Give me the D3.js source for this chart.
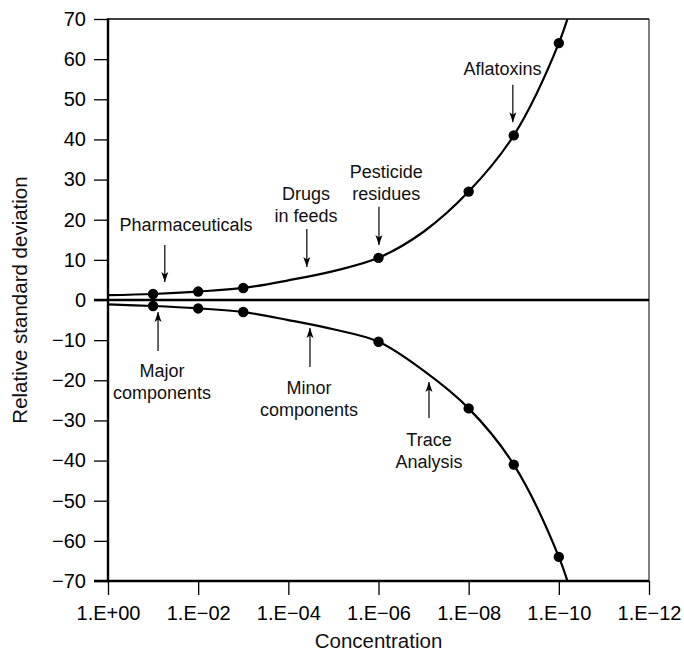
<!DOCTYPE html>
<html>
<head>
<meta charset="utf-8">
<script src="https://cdn.jsdelivr.net/npm/d3@7"></script>
<style>
  html, body { margin: 0; padding: 0; background: #fff; }
  svg { display: block; font-family: "Liberation Sans", Arial, Helvetica, sans-serif; }
</style>
</head>
<body>
<svg id="chart" width="684" height="654"></svg>
<script>
// ---- data (concentrations expressed as decimal exponents, RSD in %) ----
const xTickExponents = [0, -2, -4, -6, -8, -10, -12];
const yTickValues = [70, 60, 50, 40, 30, 20, 10, 0, -10, -20, -30, -40, -50, -60, -70];

const pointExponents = [-1, -2, -3, -6, -8, -9, -10];
const upperPointRSD = [1.5, 2.1, 3.0, 10.5, 27, 41, 64];
const lowerPointRSD = [-1.5, -2.1, -3.0, -10.4, -27, -41, -64];

const curveExponents = [0, -1, -2, -3, -4, -5, -6, -7, -8, -9, -10, -10.35];
const upperCurveRSD = [1.2, 1.5, 2.1, 3.0, 4.9, 7.2, 10.5, 17.0, 27, 41, 64, 76];
const lowerCurveRSD = [-1.1, -1.5, -2.1, -3.0, -5.0, -7.3, -10.4, -17.6, -27, -41, -64, -76];

const annotationLabels = [
  ["Pharmaceuticals"], ["Drugs", "in feeds"], ["Pesticide", "residues"], ["Aflatoxins"],
  ["Major", "components"], ["Minor", "components"], ["Trace", "Analysis"]
];
// arrow x (exponent), arrow tail and tip (RSD), label centre (exponent), label first baseline (RSD)
const annotationArrowX = [-1.26, -4.41, -6.01, -8.98, -1.11, -4.48, -7.12];
const annotationTail   = [13.7, 17.7, 23.2, 53.6, -12.7, -16.7, -29.4];
const annotationTip    = [4.5, 8.2, 13.7, 44.3, -3.0, -7.0, -20.4];
const annotationTextX  = [-1.73, -4.39, -6.17, -8.75, -1.2, -4.46, -7.12];
const annotationTextY  = [17.2, 24.9, 30.4, 56.0, -19.2, -23.4, -36.4];

// ---- layout ----
const svg = d3.select("#chart");
const L = 108, R = 649, T = 19, B = 581;

const x = d3.scaleLinear().domain([0, -12]).range([L, R]);
const y = d3.scaleLinear().domain([-70, 70]).range([B, T]);

const fmtExp = e => "1.E" + (e < 0 ? "\u2212" : "+") + String(Math.abs(e)).padStart(2, "0");

const defs = svg.append("defs");
defs.append("clipPath").attr("id", "plot")
  .append("rect").attr("x", L).attr("y", T).attr("width", R - L).attr("height", B - T);
defs.append("marker").attr("id", "arrow")
  .attr("viewBox", "0 -4 10 8").attr("refX", 10).attr("refY", 0)
  .attr("markerUnits", "userSpaceOnUse").attr("markerWidth", 10).attr("markerHeight", 8)
  .attr("orient", "auto")
  .append("path").attr("d", "M0,-3.5 L10,0 L0,3.5 L2.5,0 Z").attr("fill", "#000");

// frame: top and right thin lines
svg.append("line").attr("x1", L).attr("x2", R).attr("y1", T).attr("y2", T)
  .attr("stroke", "#000").attr("stroke-width", 1.4);
svg.append("line").attr("x1", R).attr("x2", R).attr("y1", T).attr("y2", B)
  .attr("stroke", "#000").attr("stroke-width", 1);

// y axis
const yAxis = d3.axisLeft(y).tickValues(yTickValues).tickSize(14).tickPadding(8)
  .tickFormat(d3.format("d"));
const gy = svg.append("g").attr("transform", `translate(${L},0)`).call(yAxis);
gy.select(".domain").remove();
gy.selectAll(".tick line").attr("stroke", "#000").attr("stroke-width", 1.3);
gy.selectAll(".tick text").attr("font-size", 20).attr("fill", "#000")
  .attr("font-family", "Liberation Sans, Arial, sans-serif");
svg.append("line").attr("x1", L).attr("x2", L).attr("y1", T - 0.7).attr("y2", B + 1.2)
  .attr("stroke", "#000").attr("stroke-width", 2.4);

// x axis
const xAxis = d3.axisBottom(x).tickValues(xTickExponents).tickSize(14).tickPadding(11)
  .tickFormat(fmtExp);
const gx = svg.append("g").attr("transform", `translate(0,${B})`).call(xAxis);
gx.select(".domain").remove();
gx.selectAll(".tick line").attr("stroke", "#000").attr("stroke-width", 1.3);
gx.selectAll(".tick text").attr("font-size", 20).attr("fill", "#000")
  .attr("font-family", "Liberation Sans, Arial, sans-serif");
svg.append("line").attr("x1", L - 14).attr("x2", R).attr("y1", B).attr("y2", B)
  .attr("stroke", "#000").attr("stroke-width", 2.4);

// zero line
svg.append("line").attr("x1", L - 14).attr("x2", R).attr("y1", y(0)).attr("y2", y(0))
  .attr("stroke", "#000").attr("stroke-width", 2.4);

// curves
const line = d3.line().x(d => x(d[0])).y(d => y(d[1])).curve(d3.curveCatmullRom.alpha(0.5));
const gc = svg.append("g").attr("clip-path", "url(#plot)");
[upperCurveRSD, lowerCurveRSD].forEach(vals => {
  gc.append("path")
    .datum(curveExponents.map((e, i) => [e, vals[i]]))
    .attr("d", line).attr("fill", "none").attr("stroke", "#000").attr("stroke-width", 2.2);
});

// points
[upperPointRSD, lowerPointRSD].forEach(vals => {
  svg.append("g").selectAll("circle")
    .data(pointExponents.map((e, i) => [e, vals[i]]))
    .join("circle")
    .attr("cx", d => x(d[0])).attr("cy", d => y(d[1])).attr("r", 5.2).attr("fill", "#000");
});

// annotations
const ga = svg.append("g");
annotationLabels.forEach((lines, i) => {
  ga.append("line")
    .attr("x1", x(annotationArrowX[i])).attr("x2", x(annotationArrowX[i]))
    .attr("y1", y(annotationTail[i])).attr("y2", y(annotationTip[i]))
    .attr("stroke", "#000").attr("stroke-width", 1.2)
    .attr("marker-end", "url(#arrow)");
  const t = ga.append("text")
    .attr("x", x(annotationTextX[i])).attr("y", y(annotationTextY[i]))
    .attr("text-anchor", "middle").attr("font-size", 18).attr("fill", "#111");
  lines.forEach((s, j) => {
    t.append("tspan").attr("x", x(annotationTextX[i])).attr("dy", j === 0 ? 0 : 22).text(s);
  });
});

// axis titles
svg.append("text").attr("x", (L + R) / 2).attr("y", 648)
  .attr("text-anchor", "middle").attr("font-size", 20.5).attr("fill", "#111")
  .text("Concentration");
svg.append("text").attr("transform", `translate(27,${y(0)}) rotate(-90)`)
  .attr("text-anchor", "middle").attr("font-size", 20.5).attr("fill", "#111")
  .text("Relative standard deviation");
</script>
</body>
</html>
